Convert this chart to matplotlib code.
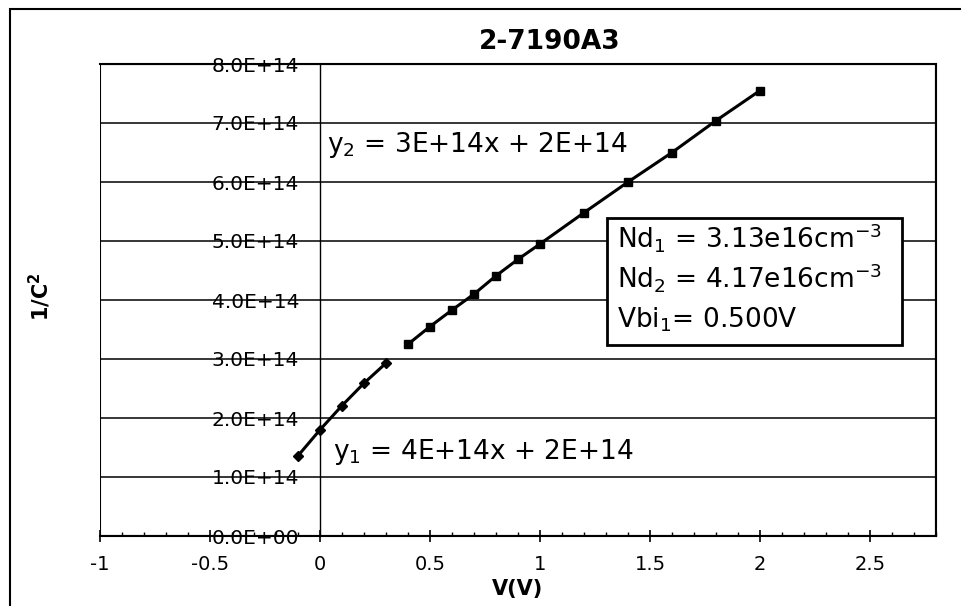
import numpy as np
import matplotlib.pyplot as plt
from matplotlib.patches import Rectangle
from matplotlib.ticker import MultipleLocator, FormatStrFormatter

# C-V data, 1/C^2 against bias, two linear regions
v1 = [-0.1, 0.0, 0.1, 0.2, 0.3]
invc2_1 = [1.36e14, 1.80e14, 2.21e14, 2.59e14, 2.93e14]
v2 = [0.4, 0.5, 0.6, 0.7, 0.8, 0.9, 1.0, 1.2, 1.4, 1.6, 1.8, 2.0]
invc2_2 = [3.25e14, 3.55e14, 3.83e14, 4.10e14, 4.41e14, 4.69e14,
           4.95e14, 5.48e14, 6.00e14, 6.50e14, 7.04e14, 7.55e14]

fit1 = 'y$_1$ = 4E+14x + 2E+14'
fit2 = 'y$_2$ = 3E+14x + 2E+14'
box_lines = ['Nd$_1$ = 3.13e16cm$^{-3}$',
             'Nd$_2$ = 4.17e16cm$^{-3}$',
             'Vbi$_1$= 0.500V']

W, H = 962, 606
fig = plt.figure(figsize=(W/100, H/100), dpi=100)
fig.patch.set_facecolor('white')

# outer chart border
fig.add_artist(Rectangle((10/W, -0.2), 1.5, 1.2 - 9/H, transform=fig.transFigure,
                         fill=False, edgecolor='black', lw=1.5))

ax = fig.add_axes([100/W, 1 - 536/H, 836/W, 472/H])
ax.set_xlim(-1, 2.8)
ax.set_ylim(0, 8e14)

ax.plot(v1, invc2_1, color='black', lw=2.2, marker='D', ms=5, zorder=3)
ax.plot(v2, invc2_2, color='black', lw=2.2, marker='s', ms=5.5, zorder=3)

# y axis crosses at V = 0, plot area frame drawn separately
ax.spines['left'].set_position(('data', 0))
ax.spines['left'].set_linewidth(1.0)
for s in ['top', 'right', 'bottom']:
    ax.spines[s].set_linewidth(1.5)
ax.add_patch(Rectangle((0, 0), 1, 1, transform=ax.transAxes, fill=False,
                       edgecolor='black', lw=1.5, zorder=4))

ax.yaxis.set_major_locator(MultipleLocator(1e14))
ax.yaxis.set_major_formatter(FormatStrFormatter('%.1E'))
ax.grid(axis='y', color='black', lw=1.1)
ax.tick_params(axis='y', length=0, pad=15, labelsize=14.5)

ax.xaxis.set_major_locator(MultipleLocator(0.5))
ax.xaxis.set_minor_locator(MultipleLocator(0.1))
ax.xaxis.set_major_formatter(lambda v, p: '%g' % v)
ax.tick_params(axis='x', which='major', direction='inout', length=8, width=1.2,
               pad=10, labelsize=14)
ax.tick_params(axis='x', which='minor', direction='in', length=3, width=1)

ax.text(0.03, 6.5e14, fit2, fontsize=19, va='baseline')
ax.text(0.06, 1.3e14, fit1, fontsize=19, va='baseline')

# parameter box
fig.add_artist(Rectangle((607/W, 1 - 345/H), 295/W, 127/H, transform=fig.transFigure,
                         facecolor='white', edgecolor='black', lw=2, zorder=5))
for i, s in enumerate(box_lines):
    fig.text(617/W, 1 - (247 + 40*i)/H, s, fontsize=19, va='baseline', zorder=6)

fig.text(550/W, 1 - 42/H, '2-7190A3', fontsize=19, fontweight='bold',
         ha='center', va='center')
fig.text(518/W, 1 - 589/H, 'V(V)', fontsize=15, fontweight='bold',
         ha='center', va='center')
fig.text(40/W, 1 - 297/H, '1/C$^\\mathbf{2}$', fontsize=15, fontweight='bold',
         rotation=90, ha='center', va='center')

fig.savefig('out.png', dpi=100)
